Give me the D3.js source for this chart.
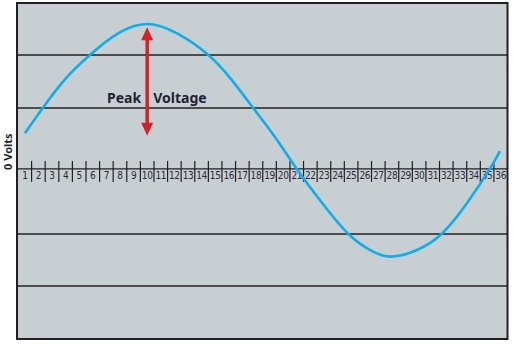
<!DOCTYPE html>
<html>
<head>
<meta charset="utf-8">
<script src="https://cdn.jsdelivr.net/npm/d3@7"></script>
<style>
  body { margin: 0; background: #fff; }
  svg { display: block; }
</style>
</head>
<body>
<div id="viz"></div>
<script>
const width = 513, height = 344;

// cell labels along the 0 volt axis
const cells = d3.range(1, 37);

// horizontal reference lines (volts)
const gridValues = [2.17, 1.16, -1.24, -2.23];

// sine wave samples: position in cells, volts
const waveX = [0.51, 1.82, 3.5, 5.29, 7.3, 9.46, 11.7, 14.0, 15.7, 17.3, 19.0, 20.5,
               22.4, 24.3, 26.0, 27.48, 29.3, 31.15, 33.0, 34.7, 35.44];
const waveV = [0.68, 1.16, 1.72, 2.17, 2.57, 2.76, 2.58, 2.17, 1.70, 1.16, 0.57, 0.0,
               -0.66, -1.24, -1.56, -1.67, -1.55, -1.24, -0.66, 0.0, 0.34];

// peak voltage arrow: cell position, top / bottom value
const arrowCell = 9.5;
const arrowEnds = [2.7, 0.63];

const svg = d3.select("#viz").append("svg")
  .attr("width", width)
  .attr("height", height);

const x = d3.scaleLinear().domain([0, 36]).range([18, 507.5]);
const y = d3.scaleLinear().domain([-3.24, 3.16]).range([339, 3]);

const ink = "#231f20";

// plot background
svg.append("rect")
  .attr("x", x(0) - 1)
  .attr("y", y(3.16))
  .attr("width", x(36) - x(0) + 1)
  .attr("height", y(-3.24) - y(3.16))
  .attr("fill", "#c8cfd3");

// grid lines
svg.selectAll(".grid")
  .data(gridValues)
  .enter()
  .append("line")
  .attr("x1", x(0) - 2)
  .attr("x2", x(36))
  .attr("y1", d => y(d))
  .attr("y2", d => y(d))
  .attr("stroke", ink)
  .attr("stroke-width", 1.4);

// zero axis
svg.append("line")
  .attr("x1", x(0) - 2)
  .attr("x2", x(36))
  .attr("y1", y(0))
  .attr("y2", y(0))
  .attr("stroke", ink)
  .attr("stroke-width", 1.4);

// cell ticks
svg.selectAll(".tick")
  .data(cells.slice(0, 35))
  .enter()
  .append("line")
  .attr("x1", d => x(d))
  .attr("x2", d => x(d))
  .attr("y1", y(0) - 8)
  .attr("y2", y(0) + 13)
  .attr("stroke", ink)
  .attr("stroke-width", 1.2);

// cell labels
svg.selectAll(".lbl")
  .data(cells)
  .enter()
  .append("text")
  .attr("x", d => x(d - 0.5))
  .attr("y", y(0) + 10.5)
  .attr("text-anchor", "middle")
  .attr("font-family", "'DejaVu Sans Condensed', 'Liberation Sans Narrow', sans-serif")
  .attr("font-size", "10px")
  .attr("letter-spacing", "-0.4px")
  .attr("fill", "#2e2838")
  .text(d => d);

// wave
const line = d3.line()
  .x(d => x(d[0]))
  .y(d => y(d[1]))
  .curve(d3.curveNatural);

svg.append("path")
  .datum(waveX.map((d, i) => [d, waveV[i]]))
  .attr("d", line)
  .attr("fill", "none")
  .attr("stroke", "#0daeea")
  .attr("stroke-width", 2.6);

// peak voltage arrow
const ax = x(arrowCell), aTop = y(arrowEnds[0]), aBot = y(arrowEnds[1]);
const red = "#d3222a";
svg.append("line")
  .attr("x1", ax).attr("x2", ax)
  .attr("y1", aTop + 10).attr("y2", aBot - 10)
  .attr("stroke", red)
  .attr("stroke-width", 3.5);
svg.append("path")
  .attr("d", `M${ax},${aTop} L${ax - 6},${aTop + 13} L${ax + 6},${aTop + 13} Z`)
  .attr("fill", red);
svg.append("path")
  .attr("d", `M${ax},${aBot} L${ax - 6},${aBot - 13} L${ax + 6},${aBot - 13} Z`)
  .attr("fill", red);

svg.append("text")
  .attr("x", ax - 6)
  .attr("y", 103)
  .attr("text-anchor", "end")
  .attr("font-family", "'Noto Sans', sans-serif")
  .attr("font-weight", "bold")
  .attr("font-size", "14px")
  .attr("fill", "#221f33")
  .text("Peak");
svg.append("text")
  .attr("x", ax + 6)
  .attr("y", 103)
  .attr("font-family", "'Noto Sans', sans-serif")
  .attr("font-weight", "bold")
  .attr("font-size", "14px")
  .attr("fill", "#221f33")
  .text("Voltage");

// plot border
svg.append("rect")
  .attr("x", x(0) - 1)
  .attr("y", y(3.16))
  .attr("width", x(36) - x(0) + 1)
  .attr("height", y(-3.24) - y(3.16))
  .attr("fill", "none")
  .attr("stroke", ink)
  .attr("stroke-width", 2);

// y label
svg.append("text")
  .attr("transform", `translate(12, ${y(0) + 1}) rotate(-90)`)
  .attr("font-family", "'Noto Sans', sans-serif")
  .attr("font-weight", "bold")
  .attr("font-size", "11px")
  .attr("fill", "#221f33")
  .text("0 Volts");
</script>
</body>
</html>
